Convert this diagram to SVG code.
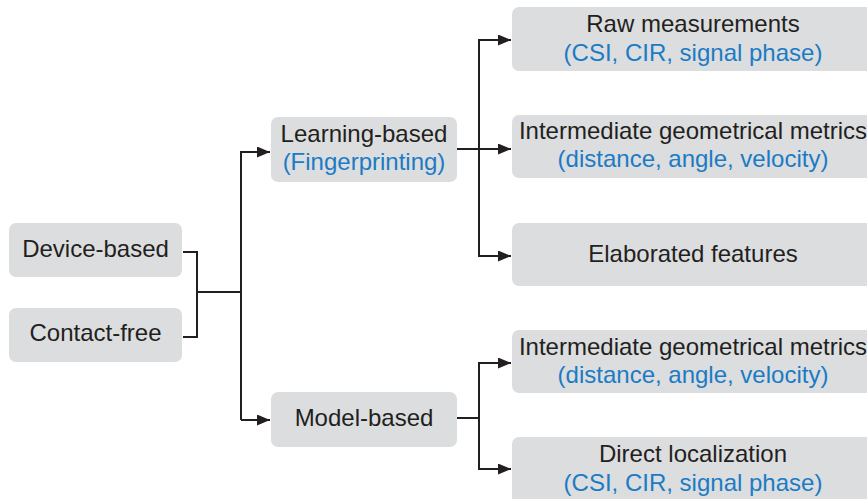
<svg xmlns="http://www.w3.org/2000/svg" width="867" height="499" viewBox="0 0 867 499">
<defs>
<style>
.box{fill:#dcdddf;}
.t{font-family:"Liberation Sans",Arial,sans-serif;font-size:24px;fill:#231f20;text-anchor:middle;}
.b{fill:#1b7bc4;}
.c{fill:none;stroke:#231f20;stroke-width:2;}
</style>
<marker id="ah" markerWidth="13" markerHeight="11" refX="13" refY="5.5" orient="auto" markerUnits="userSpaceOnUse">
<path d="M0,0 L13,5.5 L0,11 Z" fill="#231f20"/>
</marker>
</defs>
<rect width="867" height="499" fill="#ffffff"/>
<g id="connectors">
<path class="c" d="M183,252 H197 V337 H183"/>
<path class="c" d="M197,292 H241"/>
<path class="c" d="M241,420 V152 H270" marker-end="url(#ah)"/>
<path class="c" d="M241,420 H270" marker-end="url(#ah)"/>
<path class="c" d="M457,149 H511" marker-end="url(#ah)"/>
<path class="c" d="M479,149 V40 H511" marker-end="url(#ah)"/>
<path class="c" d="M479,149 V256 H511" marker-end="url(#ah)"/>
<path class="c" d="M457,418 H479"/>
<path class="c" d="M479,418 V363 H511" marker-end="url(#ah)"/>
<path class="c" d="M479,418 V469 H511" marker-end="url(#ah)"/>
</g>
<g id="device-based">
<rect class="box" x="9" y="223" width="173" height="54" rx="7"/>
<text class="t" x="95.5" y="257">Device-based</text>
</g>
<g id="contact-free">
<rect class="box" x="9" y="308" width="173" height="54" rx="7"/>
<text class="t" x="95.5" y="341">Contact-free</text>
</g>
<g id="learning-based">
<rect class="box" x="271" y="117" width="186" height="65" rx="7"/>
<text class="t" x="364" y="142">Learning-based</text>
<text class="t b" x="364" y="170">(Fingerprinting)</text>
</g>
<g id="model-based">
<rect class="box" x="271" y="392" width="186" height="55" rx="7"/>
<text class="t" x="364" y="426">Model-based</text>
</g>
<g id="raw-measurements">
<rect class="box" x="512" y="7" width="362" height="64" rx="7"/>
<text class="t" x="693" y="32">Raw measurements</text>
<text class="t b" x="693" y="61">(CSI, CIR, signal phase)</text>
</g>
<g id="intermediate-1">
<rect class="box" x="512" y="115" width="362" height="63" rx="7"/>
<text class="t" x="693" y="139">Intermediate geometrical metrics</text>
<text class="t b" x="693" y="167">(distance, angle, velocity)</text>
</g>
<g id="elaborated-features">
<rect class="box" x="512" y="223" width="362" height="63" rx="7"/>
<text class="t" x="693" y="262">Elaborated features</text>
</g>
<g id="intermediate-2">
<rect class="box" x="512" y="330" width="362" height="63" rx="7"/>
<text class="t" x="693" y="355">Intermediate geometrical metrics</text>
<text class="t b" x="693" y="383">(distance, angle, velocity)</text>
</g>
<g id="direct-localization">
<rect class="box" x="512" y="437" width="362" height="70" rx="7"/>
<text class="t" x="693" y="462">Direct localization</text>
<text class="t b" x="693" y="491">(CSI, CIR, signal phase)</text>
</g>
</svg>
